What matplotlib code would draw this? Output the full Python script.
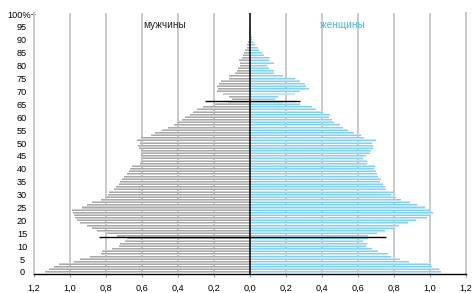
import matplotlib
matplotlib.use("Agg")
import matplotlib.pyplot as plt
import numpy as np

plt.rcParams['font.family'] = ['Liberation Sans', 'DejaVu Sans']

ages = list(range(0, 101))

men = [1.137, 1.118, 1.09, 1.063, 0.98, 0.943, 0.887, 0.828, 0.822, 0.767,
       0.73, 0.72, 0.693, 0.684, 0.74, 0.795, 0.85, 0.878, 0.906, 0.943,
       0.96, 0.97, 0.98, 0.983, 0.99, 0.933, 0.906, 0.878, 0.83, 0.80,
       0.79, 0.786, 0.754, 0.743, 0.73, 0.72, 0.71, 0.70, 0.684, 0.675,
       0.665, 0.656, 0.61, 0.607, 0.60, 0.604, 0.60, 0.607, 0.614, 0.62,
       0.61, 0.628, 0.604, 0.55, 0.527, 0.49, 0.458, 0.425, 0.407, 0.38,
       0.36, 0.336, 0.318, 0.296, 0.26, 0.194, 0.12, 0.10, 0.115, 0.148,
       0.185, 0.18, 0.185, 0.175, 0.163, 0.116, 0.114, 0.083, 0.074, 0.065,
       0.055, 0.055, 0.059, 0.046, 0.037, 0.031, 0.026, 0.019, 0.015, 0.009,
       0.007, 0.005, 0.004, 0.003, 0.003, 0.002, 0.002, 0.002, 0.001, 0.001,
       0.002]

women = [1.059, 1.050, 1.013, 1.004, 0.885, 0.834, 0.782, 0.767, 0.713, 0.675,
         0.643, 0.652, 0.630, 0.656, 0.656, 0.708, 0.750, 0.806, 0.830, 0.878,
         0.922, 0.985, 1.000, 1.018, 0.996, 0.972, 0.926, 0.889, 0.841, 0.813,
         0.782, 0.795, 0.756, 0.752, 0.741, 0.723, 0.730, 0.712, 0.704, 0.700,
         0.689, 0.697, 0.652, 0.652, 0.630, 0.645, 0.667, 0.671, 0.686, 0.686,
         0.680, 0.700, 0.636, 0.619, 0.575, 0.543, 0.514, 0.501, 0.468, 0.458,
         0.440, 0.442, 0.403, 0.368, 0.344, 0.279, 0.181, 0.139, 0.153, 0.248,
         0.279, 0.325, 0.312, 0.307, 0.279, 0.248, 0.181, 0.131, 0.131, 0.104,
         0.094, 0.131, 0.104, 0.111, 0.079, 0.065, 0.052, 0.043, 0.028, 0.020,
         0.013, 0.013, 0.008, 0.006, 0.005, 0.004, 0.003, 0.002, 0.002, 0.001,
         0.003]

ytick_pos = list(range(0, 101, 5))
ytick_labels = [str(v) for v in range(0, 100, 5)] + ['100%+']
xtick_pos = [-1.2, -1.0, -0.8, -0.6, -0.4, -0.2, 0.0, 0.2, 0.4, 0.6, 0.8, 1.0, 1.2]
xtick_labels = ['1,2', '1,0', '0,8', '0,6', '0,4', '0,2', '0,0', '0,2', '0,4', '0,6', '0,8', '1,0', '1,2']

# marker lines (age, left extent, right extent)
mark_ages = [13.5, 66.4]
mark_left = [-0.837, -0.249]
mark_right = [0.757, 0.276]

fig = plt.figure(figsize=(4.74, 2.93), dpi=100)
ax = fig.add_axes([34/474, 19/293, 432/474, 261/293])

grid_c = '#c9c9c9'
for xv in xtick_pos:
    if abs(xv) > 1e-9 and abs(abs(xv) - 1.2) > 1e-9:
        ax.axvline(xv, color=grid_c, lw=1.4, zorder=0)

y = np.array(ages)
m = -np.array(men)
w = np.array(women)
ax.barh(y, m, height=0.78, color='#cdcdcd', zorder=2, linewidth=0)
ax.barh(y, m, height=0.38, color='#a9a9a9', zorder=2.1, linewidth=0)
ax.barh(y, w, height=0.78, color='#bde8fb', zorder=2, linewidth=0)
ax.barh(y, w, height=0.38, color='#7fd2f6', zorder=2.1, linewidth=0)

ax.axvline(0, color='black', lw=1.1, zorder=3)
for a, l, r in zip(mark_ages, mark_left, mark_right):
    ax.plot([l, r], [a, a], color='black', lw=1.0, zorder=4, solid_capstyle='butt')

ax.set_xlim(-1.2, 1.2)
ax.set_ylim(-0.78, 100.4)
ax.set_xticks(xtick_pos)
ax.set_xticklabels(xtick_labels, fontsize=6.6)
ax.set_yticks(ytick_pos)
ax.set_yticklabels(ytick_labels, fontsize=6.6, ha='center')
ax.tick_params(axis='y', length=0, pad=8.6)
ax.tick_params(axis='x', length=2.5, color='#a0a0a0', pad=4.5, width=0.8)

for s in ['left', 'right']:
    ax.spines[s].set_color(grid_c)
    ax.spines[s].set_linewidth(1.4)
ax.spines['top'].set_visible(False)
ax.spines['bottom'].set_color('black')
ax.spines['bottom'].set_linewidth(1.0)

ax.text(-0.476, 95.6, 'мужчины', color='#222222', fontsize=7.2, ha='center', va='center', zorder=5)
ax.text(0.515, 95.6, 'женщины', color='#3db8ea', fontsize=7.2, ha='center', va='center', zorder=5)

fig.savefig('out.png', dpi=100)
